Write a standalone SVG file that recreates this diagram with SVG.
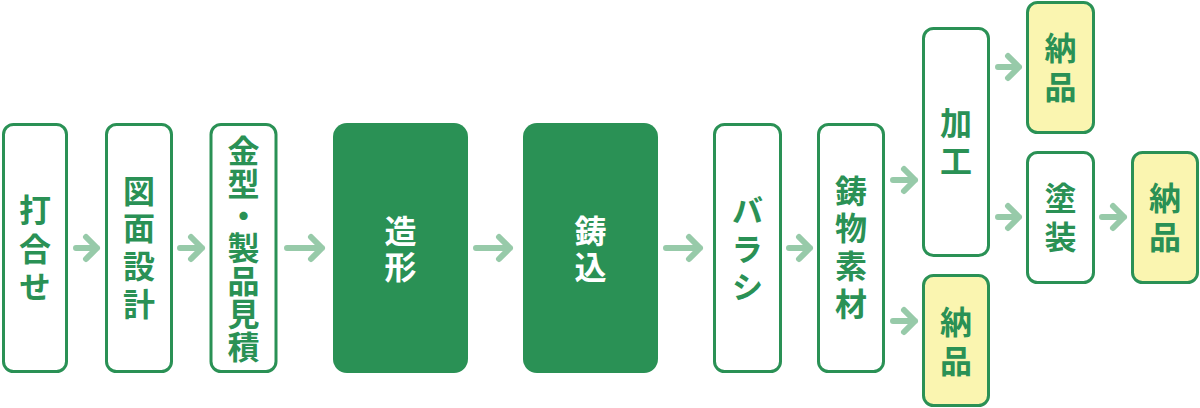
<svg xmlns="http://www.w3.org/2000/svg" width="1200" height="408" viewBox="0 0 1200 408">
<style>
.box{fill:#fff;stroke:#2a9155;stroke-width:3}
.dark{fill:#2a9155;stroke:none}
.yel{fill:#faf5b0;stroke:#2a9155;stroke-width:3}
text{font-family:"Noto Sans CJK JP","Noto Sans CJK SC",sans-serif;font-size:32px;font-weight:700;fill:#2a9155;text-anchor:middle;writing-mode:vertical-rl}
.w{fill:#fff}
.arr{fill:none;stroke:#97caa9;stroke-width:6;stroke-linecap:round;stroke-linejoin:round}
</style>
<g id="connectors">
<path class="arr" d="M76 248H97M86 237L97 248L86 259"/>
<path class="arr" d="M180 248H202M191 237L202 248L191 259"/>
<path class="arr" d="M287 248H322M311 237L322 248L311 259"/>
<path class="arr" d="M476 248H510M499 237L510 248L499 259"/>
<path class="arr" d="M666 248H700M689 237L700 248L689 259"/>
<path class="arr" d="M789 248H810M799 237L810 248L799 259"/>
<path class="arr" d="M893 180H915M904 169L915 180L904 191"/>
<path class="arr" d="M893 321H915M904 310L915 321L904 332"/>
<path class="arr" d="M998 67H1019M1008 56L1019 67L1008 78"/>
<path class="arr" d="M998 217H1019M1008 206L1019 217L1008 228"/>
<path class="arr" d="M1102 217H1124M1113 206L1124 217L1113 228"/>
</g>
<g id="n1"><rect class="box" x="3.5" y="124.5" width="63" height="247" rx="10"/>
<text x="35" y="210">打</text><text x="35" y="249">合</text><text x="35" y="287">せ</text></g>
<g id="n2"><rect class="box" x="106.5" y="124.5" width="65" height="247" rx="10"/>
<text x="139" y="191">図</text><text x="139" y="228">面</text><text x="139" y="266">設</text><text x="139" y="304">計</text></g>
<g id="n3"><rect class="box" x="211" y="124.5" width="65" height="247" rx="10"/>
<text x="243.5" y="151">金</text><text x="243.5" y="184">型</text><text x="243.5" y="216">・</text><text x="243.5" y="248">製</text><text x="243.5" y="281">品</text><text x="243.5" y="314">見</text><text x="243.5" y="347">積</text></g>
<g id="n4"><rect class="dark" x="333" y="123" width="135" height="250" rx="14"/>
<text class="w" x="400.5" y="231">造</text><text class="w" x="400.5" y="267">形</text></g>
<g id="n5"><rect class="dark" x="523" y="123" width="135" height="250" rx="14"/>
<text class="w" x="590.5" y="231">鋳</text><text class="w" x="590.5" y="267">込</text></g>
<g id="n6"><rect class="box" x="714.5" y="124.5" width="66" height="247" rx="10"/>
<text x="747.5" y="210">バ</text><text x="747.5" y="249">ラ</text><text x="747.5" y="287">シ</text></g>
<g id="n7"><rect class="box" x="818.5" y="124.5" width="65" height="247" rx="10"/>
<text x="851" y="191">鋳</text><text x="851" y="228">物</text><text x="851" y="266">素</text><text x="851" y="304">材</text></g>
<g id="n8"><rect class="box" x="923.5" y="28.5" width="65" height="227" rx="10"/>
<text x="956" y="123">加</text><text x="956" y="161">工</text></g>
<g id="n9"><rect class="yel" x="923.5" y="275.5" width="65" height="130" rx="10"/>
<text x="956" y="322">納</text><text x="956" y="361">品</text></g>
<g id="n10"><rect class="yel" x="1027.5" y="2.5" width="66" height="130" rx="10"/>
<text x="1060.5" y="48">納</text><text x="1060.5" y="87">品</text></g>
<g id="n11"><rect class="box" x="1027.5" y="152.5" width="66" height="130" rx="10"/>
<text x="1060.5" y="198">塗</text><text x="1060.5" y="237">装</text></g>
<g id="n12"><rect class="yel" x="1132.5" y="152.5" width="65" height="130" rx="10"/>
<text x="1165" y="198">納</text><text x="1165" y="237">品</text></g>
</svg>
